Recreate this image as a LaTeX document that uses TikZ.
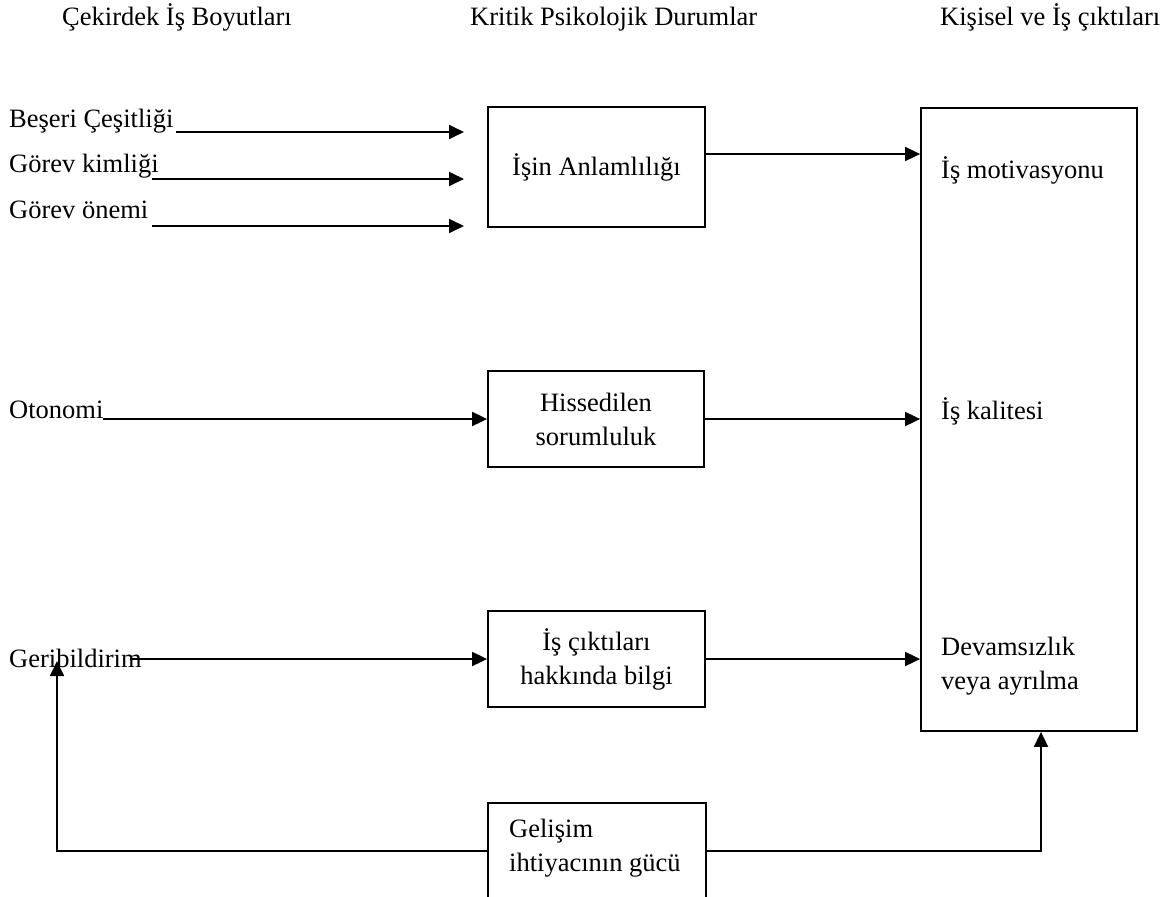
\documentclass[tikz,border=0pt]{standalone}
\usepackage{fontspec}
\setmainfont{Liberation Serif}
\usetikzlibrary{arrows.meta}
\begin{document}
\begin{tikzpicture}[x=1pt,y=-1pt,
  every node/.style={font=\fontsize{26.5}{34}\selectfont},
  lab/.style={anchor=base west,inner sep=0pt},
  box/.style={draw,line width=1.8pt,align=center,inner sep=0pt},
  conn/.style={line width=1.8pt},
  arr/.style={conn,-{Triangle[length=15pt,width=14pt]}}]
\useasboundingbox (0,0) rectangle (1160,897);
% headers
\node[lab] (h1) at (62,25) {Çekirdek İş Boyutları};
\node[lab] (h2) at (470,25) {Kritik Psikolojik Durumlar};
\node[lab] (h3) at (940,25) {Kişisel ve İş çıktıları};
% left labels
\node[lab] (l1) at (9,127) {Beşeri Çeşitliği};
\node[lab] (l2) at (9,172) {Görev kimliği};
\node[lab] (l3) at (9,218) {Görev önemi};
\node[lab] (l4) at (9,418) {Otonomi};
\node[lab] (l5) at (9,667) {Geribildirim};
% boxes
\node[box,minimum width=217pt,minimum height=120pt] (b1) at (596.5,167) {İşin Anlamlılığı};
\node[box,minimum width=216pt,minimum height=96pt] (b2) at (596,419) {Hissedilen\\sorumluluk};
\node[box,minimum width=217pt,minimum height=96pt] (b3) at (596.5,659) {İş çıktıları\\hakkında bilgi};
\node[box,minimum width=216pt,minimum height=623pt] (big) at (1029,419.5) {};
\node[lab] (o1) at (941,178) {İş motivasyonu};
\node[lab] (o2) at (941,419) {İş kalitesi};
\node[anchor=north west,align=left,inner sep=0pt] (o3) at (941,637) {Devamsızlık\\veya ayrılma};
% bottom open box
\draw[conn] (488,897) -- (488,803) -- (706,803) -- (706,897);
\node[anchor=north west,align=left,inner sep=0pt] (g) at (509,819) {Gelişim\\ihtiyacının gücü};
\coordinate (gl) at (488,851);
\coordinate (gr) at (706,851);
% free-end coordinates
\coordinate (s1) at (176,132); \coordinate (e1) at (464,132);
\coordinate (s2) at (152,179); \coordinate (e2) at (464,179);
\coordinate (s3) at (152,226); \coordinate (e3) at (464,226);
\coordinate (s4) at (103,419);
\coordinate (s5) at (130,659);
\coordinate (fb) at (57,661);
% connectors
\draw[arr] (s1) -- (e1);
\draw[arr] (s2) -- (e2);
\draw[arr] (s3) -- (e3);
\draw[arr] (s4) -- (b2.west);
\draw[arr] (s5) -- (b3.west);
\draw[arr] (b1.east |- 0,154) -- (big.west |- 0,154);
\draw[arr] (b2.east) -- (big.west |- b2.east);
\draw[arr] (b3.east) -- (big.west |- b3.east);
\draw[arr] (gl) -- (57,851) -- (fb);
\draw[arr] (gr) -| (big.south -| 1041,0);
\end{tikzpicture}
\end{document}
